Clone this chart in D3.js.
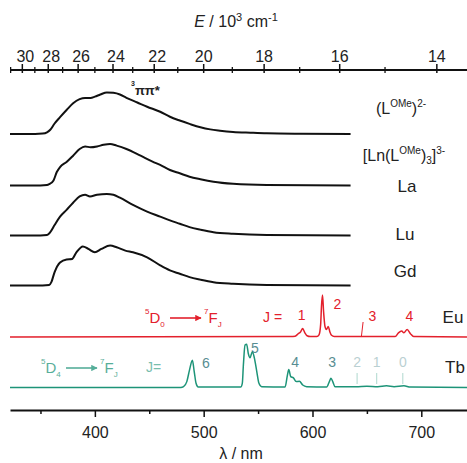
<!DOCTYPE html>
<head>
  <meta charset="utf-8">
  <script src="https://d3js.org/d3.v7.min.js"></script>
  <style>
    body { margin: 0; background: #fff; }
    svg { font-family: "Liberation Sans", Arial, sans-serif; }
    .axis text { font-size: 16px; fill: #222; }
    .lbl { font-size: 16px; fill: #222; }
  </style>
</head>
<body>
  <svg width="467" height="463"></svg>
  <script>
    // tick values
    var lambdaTicks = [400, 500, 600, 700];
    var lambdaMinor = [350, 450, 550, 650];
    var energyTicks = [30, 28, 26, 24, 22, 20, 18, 16, 14];
    var energyMinor = [31, 29, 27, 25, 23, 21, 19, 17, 15];

    // spectra, [wavelength nm, normalised intensity]
    var ligand = [[322, 0], [345, 0], [352, 0.01], [356, 0.04], [359, 0.1], [363, 0.25], [368, 0.40], [374, 0.57],
      [380, 0.73], [386, 0.83], [391, 0.86], [396, 0.86], [400, 0.89], [405, 0.94], [411, 0.99], [417, 0.98],
      [423, 0.94], [429, 0.86], [439, 0.75], [448, 0.65], [460, 0.53], [469, 0.41], [478, 0.32], [487, 0.24],
      [497, 0.16], [506, 0.11], [515, 0.08], [527, 0.05], [543, 0.03], [558, 0.015], [589, 0.005], [635, 0]];
    var laData = [[322, 0], [350, 0], [356, 0.01], [358, 0.03], [362, 0.12], [365, 0.32], [368, 0.44], [374, 0.56],
      [380, 0.71], [386, 0.87], [391, 0.93], [396, 0.91], [402, 0.93], [408, 0.97], [414, 0.99], [420, 0.95],
      [429, 0.87], [442, 0.71], [453, 0.57], [460, 0.49], [469, 0.37], [478, 0.29], [487, 0.21], [497, 0.15],
      [509, 0.09], [527, 0.04], [558, 0.01], [635, 0]];
    var luData = [[322, 0], [350, 0], [356, 0.01], [359, 0.08], [363, 0.25], [368, 0.45], [374, 0.61], [380, 0.78],
      [386, 0.93], [391, 0.97], [395.5, 0.93], [402, 0.97], [411, 0.99], [417, 0.97], [423, 0.90], [435, 0.73],
      [448, 0.57], [460, 0.45], [469, 0.36], [478, 0.28], [487, 0.2], [497, 0.14], [509, 0.08], [527, 0.04],
      [558, 0.01], [635, 0]];
    var gdData = [[322, 0], [352, 0], [358, 0.01], [360, 0.08], [363, 0.32], [368, 0.55], [374, 0.62], [379, 0.63],
      [383, 0.79], [389, 0.93], [394, 0.87], [400, 0.79], [406, 0.87], [414, 0.95], [420, 0.91], [428, 0.83],
      [435, 0.79], [448, 0.67], [460, 0.48], [469, 0.36], [478, 0.28], [487, 0.2], [497, 0.14], [509, 0.08],
      [527, 0.04], [558, 0.01], [635, 0]];
    var euData = [[322, 0], [580, 0.01], [584, 0.02], [587, 0.08], [589, 0.12], [591, 0.2], [593, 0.1], [595, 0.03],
      [598, 0.01], [604, 0.01], [606, 0.05], [607.5, 0.3], [608.3, 0.75], [609.2, 1.0], [610.2, 0.6], [611.5, 0.25],
      [612.8, 0.18], [614.5, 0.25], [616, 0.12], [617.5, 0.04], [620, 0.01], [676, 0.01], [679, 0.1], [682, 0.14],
      [684, 0.1], [687, 0.18], [690, 0.08], [693, 0.01], [742, 0]];
    var tbData = [[322, 0], [479, 0], [481.5, 0.02], [484.5, 0.14], [487, 0.42], [489.6, 0.65], [491.3, 0.38],
      [493, 0.1], [495, 0.01], [534, 0.01], [535.5, 0.1], [536.5, 0.54], [538, 1.01], [539.5, 1.03], [541, 0.81],
      [542.6, 0.71], [544.7, 0.85], [546.6, 0.7], [548.8, 0.38], [550.8, 0.1], [553.3, 0.02], [574.8, 0.01],
      [577, 0.3], [578.2, 0.43], [580, 0.26], [582.5, 0.23], [585, 0.14], [588, 0.15], [591, 0.06], [594.7, 0.02],
      [613, 0.01], [615.5, 0.14], [617, 0.22], [618.6, 0.14], [620.7, 0.02], [640, 0.02], [650, 0.03], [660, 0.02],
      [668, 0.04], [675, 0.02], [684, 0.04], [690, 0.01], [742, 0]];

    // J labels on the emission lines
    var euJ = [["1", 590], ["2", 623], ["3", 655], ["4", 689]];
    var tbJ = [["6", 502], ["5", 547], ["4", 584], ["3", 618], ["2", 641], ["1", 659], ["0", 683]];

    var svg = d3.select("svg");
    var red = "#e3202c", teal = "#1d9478";

    var x = d3.scaleLinear().domain([322, 742]).range([10, 467]);
    var y = d3.scaleLinear().domain([0, 1]).range([0, -42]);

    var line = d3.line()
      .curve(d3.curveMonotoneX)
      .x(function (d) { return x(d[0]); })
      .y(function (d) { return y(d[1]); });

    var traces = [
      { data: ligand, base: 134, color: "#111", w: 2 },
      { data: laData, base: 185.5, color: "#111", w: 2 },
      { data: luData, base: 235.5, color: "#111", w: 2 },
      { data: gdData, base: 285.5, color: "#111", w: 2 },
      { data: euData, base: 337, color: red, w: 1.5 },
      { data: tbData, base: 387.5, color: teal, w: 1.5 }
    ];

    traces.forEach(function (t) {
      svg.append("path")
        .datum(t.data)
        .attr("transform", "translate(0," + t.base + ")")
        .attr("fill", "none")
        .attr("stroke", t.color)
        .attr("stroke-width", t.w)
        .attr("stroke-linejoin", "round")
        .attr("d", line);
    });

    // bottom axis
    var gx = svg.append("g").attr("class", "axis").attr("transform", "translate(0,410)");
    gx.call(d3.axisBottom(x).tickValues(lambdaTicks).tickSize(7).tickSizeOuter(0).tickPadding(10));
    gx.append("g").call(d3.axisBottom(x).tickValues(lambdaMinor).tickSize(4).tickSizeOuter(0).tickFormat(""))
      .select(".domain").remove();
    gx.selectAll("path, line").attr("stroke", "#111").attr("stroke-width", 1.5);
    gx.select(".domain").attr("stroke-width", 2.2);
    gx.selectAll("text").attr("font-family", null).style("font-size", "16px").attr("fill", "#222");

    svg.append("text").attr("class", "lbl").attr("x", 241).attr("y", 459).attr("text-anchor", "middle")
      .text("λ / nm");

    // top energy axis, E in 10^3 cm-1 -> wavelength nm
    function ex(e) { return x(1e4 / e); }
    var gTop = svg.append("g").attr("class", "axis");
    gTop.append("line").attr("x1", 10).attr("x2", 467).attr("y1", 70).attr("y2", 70)
      .attr("stroke", "#111").attr("stroke-width", 2.2);
    gTop.selectAll(".maj").data(energyTicks).enter().append("line")
      .attr("x1", ex).attr("x2", ex).attr("y1", 64).attr("y2", 73)
      .attr("stroke", "#111").attr("stroke-width", 1.5);
    gTop.selectAll(".min").data(energyMinor).enter().append("line")
      .attr("x1", ex).attr("x2", ex).attr("y1", 67).attr("y2", 73)
      .attr("stroke", "#111").attr("stroke-width", 1.3);
    gTop.selectAll("text").data(energyTicks).enter().append("text")
      .attr("x", function (d) { return ex(d) + (d >= 22 ? 3 : 0); })
      .attr("y", 62).attr("text-anchor", "middle").text(function (d) { return d; });

    var et = svg.append("text").attr("class", "lbl").attr("x", 236).attr("y", 27).attr("text-anchor", "middle");
    et.append("tspan").attr("font-style", "italic").text("E");
    et.append("tspan").text(" / 10");
    et.append("tspan").attr("font-size", 11).attr("dy", -6).text("3");
    et.append("tspan").attr("dy", 6).text(" cm");
    et.append("tspan").attr("font-size", 11).attr("dy", -6).text("-1");

    // series labels
    var l1 = svg.append("text").attr("class", "lbl").attr("x", 401).attr("y", 114).attr("text-anchor", "middle");
    l1.append("tspan").text("(L");
    l1.append("tspan").attr("font-size", 10).attr("dy", -7).text("OMe");
    l1.append("tspan").attr("dy", 7).text(")");
    l1.append("tspan").attr("font-size", 10).attr("dy", -7).text("2-");

    var l2 = svg.append("text").attr("class", "lbl").attr("x", 404).attr("y", 161).attr("text-anchor", "middle");
    l2.append("tspan").text("[Ln(L");
    l2.append("tspan").attr("font-size", 10).attr("dy", -7).text("OMe");
    l2.append("tspan").attr("dy", 7).text(")");
    l2.append("tspan").attr("font-size", 10).attr("dy", 3).text("3");
    l2.append("tspan").attr("dy", -3).text("]");
    l2.append("tspan").attr("font-size", 10).attr("dy", -7).text("3-");

    var names = [["La", 407, 192], ["Lu", 405, 240], ["Gd", 405, 277], ["Eu", 453, 323], ["Tb", 455, 373]];
    svg.selectAll(".nm").data(names).enter().append("text").attr("class", "lbl")
      .attr("x", function (d) { return d[1]; }).attr("y", function (d) { return d[2]; })
      .attr("text-anchor", "middle").style("font-size", "17px").text(function (d) { return d[0]; });

    // 3pi-pi* label
    var pp = svg.append("text").attr("x", 131).attr("y", 95).attr("font-size", 13).attr("font-weight", "bold").attr("fill", "#222");
    pp.append("tspan").attr("font-size", 7).attr("dy", -9).text("3");
    pp.append("tspan").attr("dy", 9).text("ππ*");

    // transition labels
    svg.append("defs").selectAll("marker").data([["ar", red], ["ag", teal]]).enter().append("marker")
      .attr("id", function (d) { return d[0]; }).attr("viewBox", "0 0 10 10").attr("refX", 9).attr("refY", 5)
      .attr("markerWidth", 4).attr("markerHeight", 4).attr("orient", "auto")
      .append("path").attr("d", "M0,0L10,5L0,10z").attr("fill", function (d) { return d[1]; });

    function transition(x0, yb, level, color, marker, op) {
      var g = svg.append("g").attr("fill", color).attr("opacity", op).style("font-size", "15px");
      var t = g.append("text").attr("x", x0).attr("y", yb);
      t.append("tspan").attr("font-size", 8).attr("dy", -9).text("5");
      t.append("tspan").attr("dy", 9).text("D");
      t.append("tspan").attr("font-size", 8).attr("dy", 4).text(level);
      g.append("line").attr("x1", x0 + 25).attr("x2", x0 + 56).attr("y1", yb - 5).attr("y2", yb - 5)
        .attr("stroke", color).attr("stroke-width", 1.6).attr("marker-end", "url(#" + marker + ")");
      var t2 = g.append("text").attr("x", x0 + 59).attr("y", yb);
      t2.append("tspan").attr("font-size", 8).attr("dy", -9).text("7");
      t2.append("tspan").attr("dy", 9).text("F");
      t2.append("tspan").attr("font-size", 8).attr("dy", 4).text("J");
    }
    transition(145, 323, "0", red, "ar", 1);
    transition(41, 373, "4", teal, "ag", 0.75);

    svg.append("text").attr("x", 263).attr("y", 322).attr("fill", red).style("font-size", "14px").text("J =");
    svg.append("text").attr("x", 146).attr("y", 372).attr("fill", teal).attr("opacity", 0.6).style("font-size", "14px").text("J=");

    var euY = { "1": 320, "2": 309, "3": 321, "4": 321 };
    svg.selectAll(".ej").data(euJ).enter().append("text")
      .attr("x", function (d) { return x(d[1]); }).attr("y", function (d) { return euY[d[0]]; })
      .attr("text-anchor", "middle").attr("fill", red).style("font-size", "14px").text(function (d) { return d[0]; });
    // small marker near J = 3
    svg.append("line").attr("x1", x(645)).attr("x2", x(646.5)).attr("y1", 336).attr("y2", 322)
      .attr("stroke", red).attr("stroke-width", 1);

    var tbY = { "6": 368, "5": 353, "4": 367, "3": 367, "2": 367, "1": 367, "0": 367 };
    svg.selectAll(".tj").data(tbJ).enter().append("text")
      .attr("x", function (d) { return x(d[1]); }).attr("y", function (d) { return tbY[d[0]]; })
      .attr("text-anchor", "middle").attr("fill", "#3a7a80")
      .attr("opacity", function (d) { return +d[0] < 3 ? 0.35 : 0.85; })
      .style("font-size", "14px").text(function (d) { return d[0]; });
    svg.selectAll(".tm").data(tbJ.filter(function (d) { return +d[0] < 3; })).enter().append("line")
      .attr("x1", function (d) { return x(d[1]); }).attr("x2", function (d) { return x(d[1]); })
      .attr("y1", 373).attr("y2", 384).attr("stroke", teal).attr("opacity", 0.35);
  </script>
</body>
